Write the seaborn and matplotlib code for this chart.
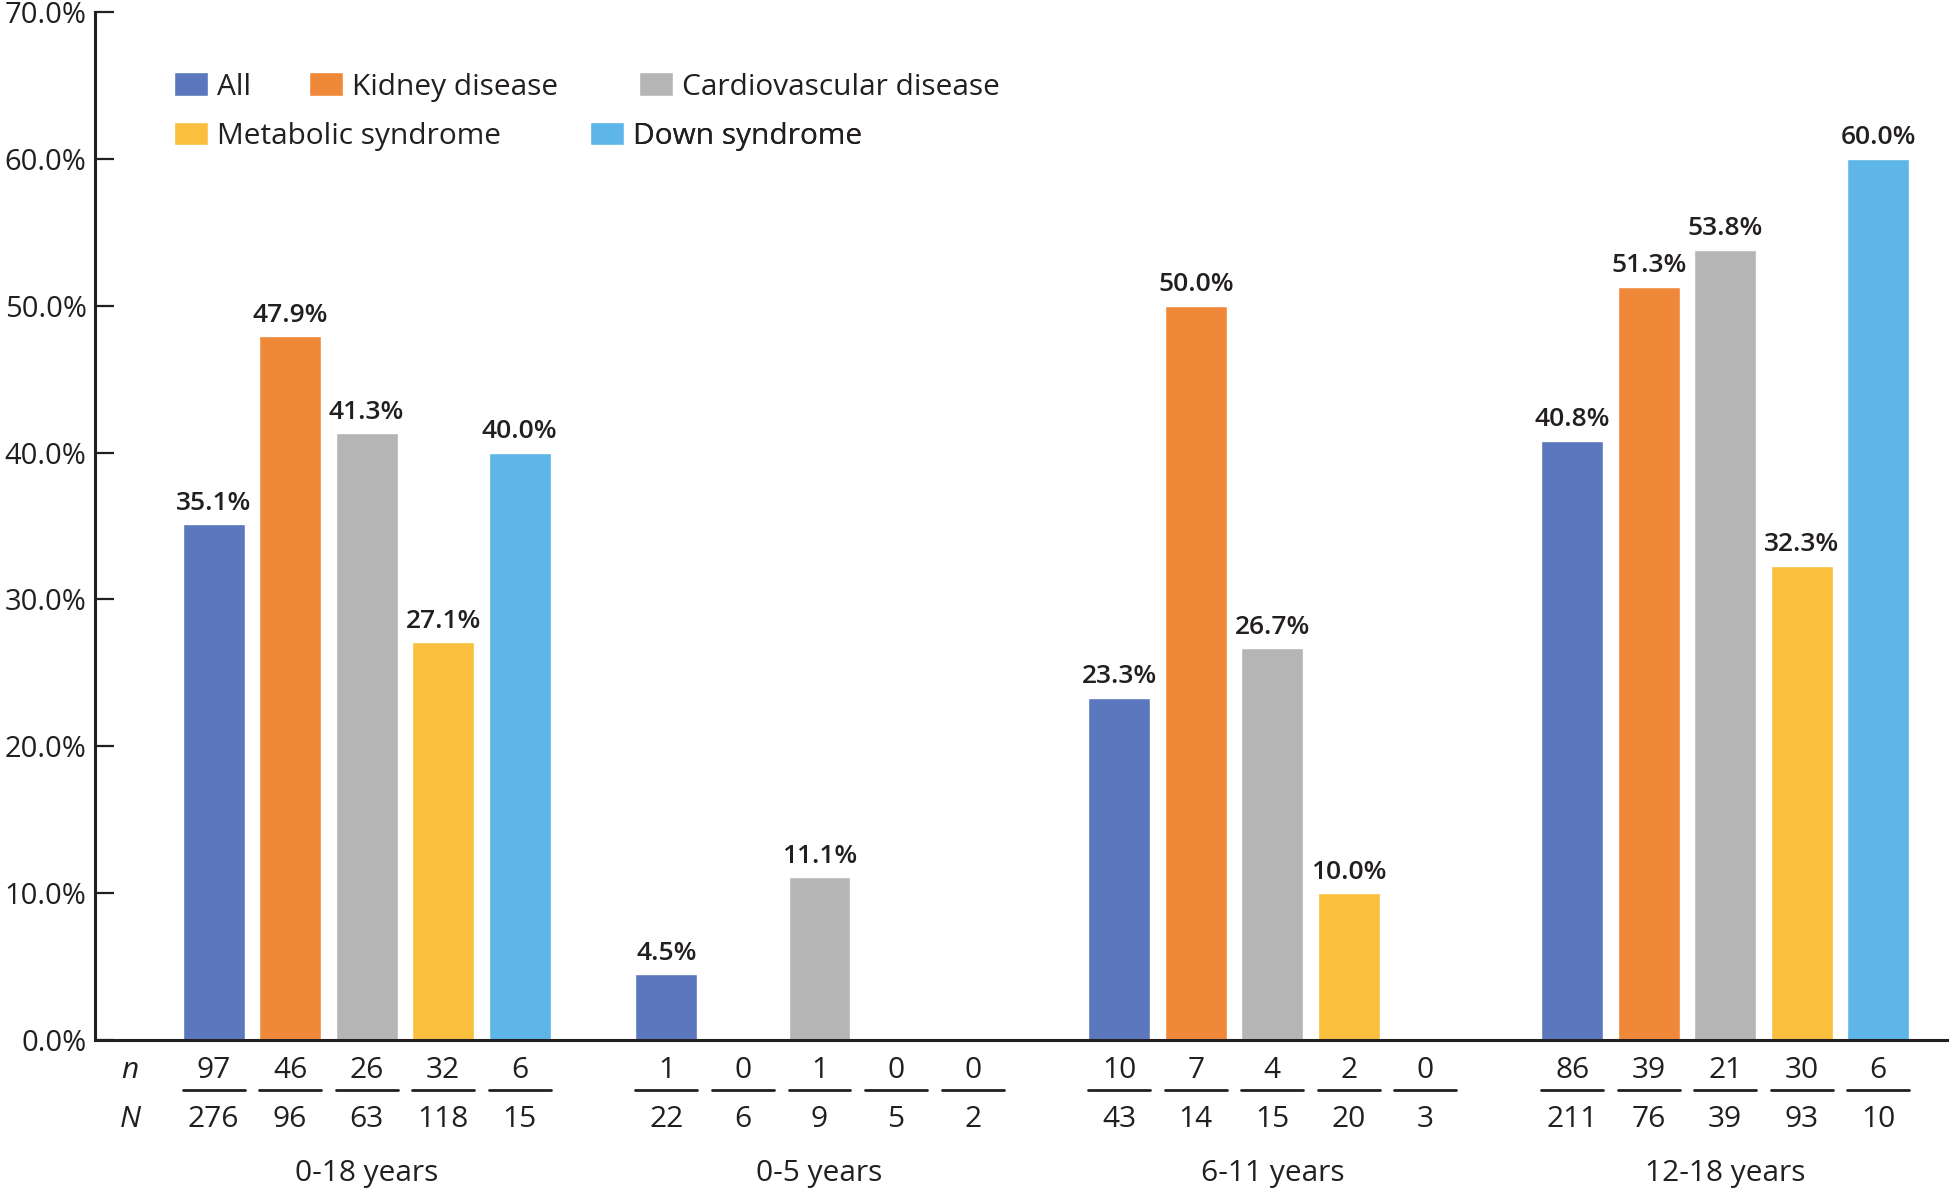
import pandas as pd
import numpy as np
import matplotlib
matplotlib.use("Agg")
import matplotlib.pyplot as plt
import seaborn as sns
from matplotlib import font_manager
from matplotlib.patches import Patch
from matplotlib.ticker import FuncFormatter
from matplotlib.transforms import blended_transform_factory

# data
groups = ["0-18 years", "0-5 years", "6-11 years", "12-18 years"]
conditions = ["All", "Kidney disease", "Cardiovascular disease", "Metabolic syndrome", "Down syndrome"]
colors = ["#5B77BE", "#F0883A", "#B4B5B4", "#FBBF3E", "#5DB5E8"]

pct_all = [35.1, 4.5, 23.3, 40.8]
pct_kidney = [47.9, 0.0, 50.0, 51.3]
pct_cardio = [41.3, 11.1, 26.7, 53.8]
pct_metabolic = [27.1, 0.0, 10.0, 32.3]
pct_down = [40.0, 0.0, 0.0, 60.0]

n_all = [97, 1, 10, 86]
n_kidney = [46, 0, 7, 39]
n_cardio = [26, 1, 4, 21]
n_metabolic = [32, 0, 2, 30]
n_down = [6, 0, 0, 6]

N_all = [276, 22, 43, 211]
N_kidney = [96, 6, 14, 76]
N_cardio = [63, 9, 15, 39]
N_metabolic = [118, 5, 20, 93]
N_down = [15, 2, 3, 10]

pcts = [pct_all, pct_kidney, pct_cardio, pct_metabolic, pct_down]
ns = [n_all, n_kidney, n_cardio, n_metabolic, n_down]
Ns = [N_all, N_kidney, N_cardio, N_metabolic, N_down]

rows = []
for cond, p, n, N in zip(conditions, pcts, ns, Ns):
    for g, pv, nv, Nv in zip(groups, p, n, N):
        rows.append({"group": g, "condition": cond, "pct": pv, "n": nv, "N": Nv})
df = pd.DataFrame(rows)

sns.set_style("white")
installed = {f.name for f in font_manager.fontManager.ttflist}
fam = next(f for f in ["Liberation Sans Narrow", "Open Sans", "Liberation Sans", "DejaVu Sans"] if f in installed)
print("font:", fam)
plt.rcParams["font.family"] = [fam, "DejaVu Sans"]
ink = "#231F20"
plt.rcParams["text.color"] = ink

fig = plt.figure(figsize=(19.53, 11.89), dpi=100)
ax = fig.add_axes([0.0486, 0.1253, 0.9484, 0.8647])

sns.barplot(data=df, x="group", y="pct", hue="condition", order=groups, hue_order=conditions,
            palette=colors, saturation=1, width=0.845, gap=0.19, errorbar=None, legend=False, ax=ax)

ax.set_xlim(-0.6, 3.49)
ax.set_ylim(0, 70)
ax.set_yticks(np.arange(0, 71, 10))
ax.yaxis.set_major_formatter(FuncFormatter(lambda v, p: f"{v:.1f}%"))
ax.tick_params(axis="y", direction="in", length=14, width=1.6, labelsize=21, pad=6, colors=ink, left=True)
ax.set_ylabel("")
ax.set_xlabel("")
for s in ["top", "right"]:
    ax.spines[s].set_visible(False)
for s in ["left", "bottom"]:
    ax.spines[s].set_linewidth(2.2)
    ax.spines[s].set_color(ink)

trans = blended_transform_factory(ax.transData, ax.transAxes)

# bar labels and the n / N table under each bar
for cont, cond in zip(ax.containers, conditions):
    sub = df[df.condition == cond].set_index("group").loc[groups]
    labels = [f"{v:.1f}%" if v > 0 else "" for v in sub.pct]
    ax.bar_label(cont, labels=labels, padding=6, fontsize=19, fontweight="semibold", color=ink)
    for bar, nv, Nv in zip(cont, sub.n, sub.N):
        x0, w = bar.get_x(), bar.get_width()
        ax.text(x0 + w / 2, -0.030, str(nv), transform=trans, ha="center", va="center", fontsize=21.5)
        ax.plot([x0, x0 + w], [-0.0486, -0.0486], transform=trans, color=ink, lw=2, clip_on=False)
        ax.text(x0 + w / 2, -0.077, str(Nv), transform=trans, ha="center", va="center", fontsize=21.5)

ax.text(0.019, -0.030, "n", transform=ax.transAxes, ha="center", va="center", fontsize=21.5, style="italic")
ax.text(0.019, -0.077, "N", transform=ax.transAxes, ha="center", va="center", fontsize=21.5, style="italic")

for xg, g in zip(ax.get_xticks(), groups):
    ax.text(xg, -0.130, g, transform=trans, ha="center", va="center", fontsize=21.5)
ax.set_xticks([])

# legend entries placed one by one, as in the original layout
legend_pos = [(0.0427, 0.927), (0.1156, 0.927), (0.2937, 0.927), (0.0427, 0.879), (0.2673, 0.879)]
for cond, col, (lx, ly) in zip(conditions, colors, legend_pos):
    leg = ax.legend(handles=[Patch(facecolor=col, label=cond)], loc="center left",
                    bbox_to_anchor=(lx, ly), bbox_transform=ax.transAxes, frameon=False,
                    fontsize=21.5, handlelength=1.15, handleheight=0.85, handletextpad=0.3,
                    borderpad=0, borderaxespad=0)
    ax.add_artist(leg)

fig.savefig("out.png", dpi=100)
